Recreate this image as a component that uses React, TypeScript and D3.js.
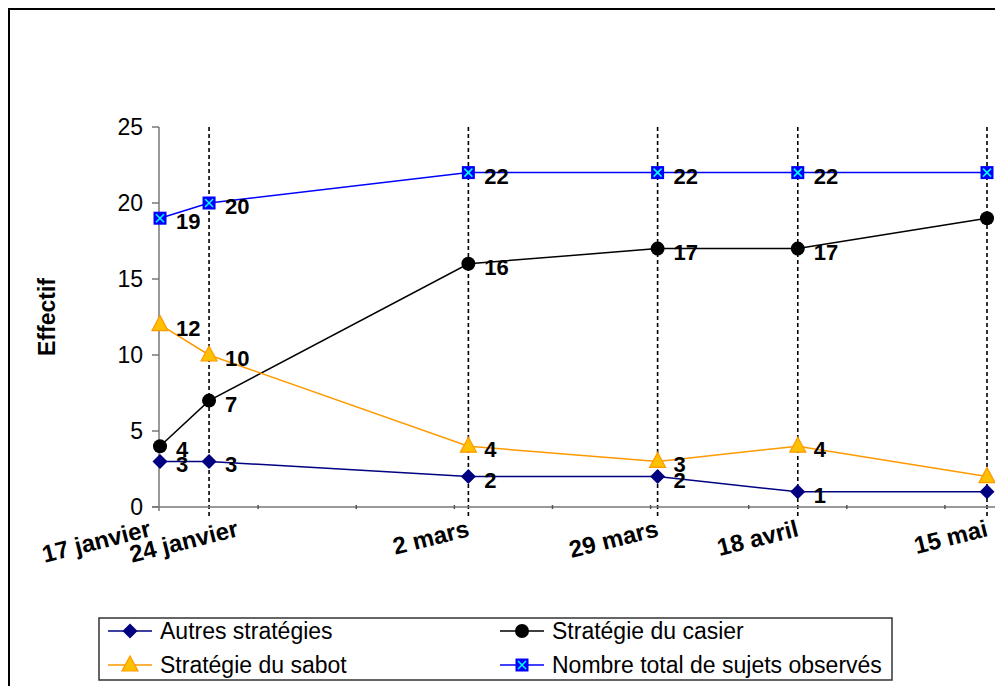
import React from "react";
import * as d3 from "d3";

const dates = ["2005-01-17", "2005-01-24", "2005-03-02", "2005-03-29", "2005-04-18", "2005-05-15"];
const dateLabels = ["17 janvier", "24 janvier", "2 mars", "29 mars", "18 avril", "15 mai"];
const autres = [3, 3, 2, 2, 1, 1];
const casier = [4, 7, 16, 17, 17, 19];
const sabot = [12, 10, 4, 3, 4, 2];
const total = [19, 20, 22, 22, 22, 22];
const yTicks = [0, 5, 10, 15, 20, 25];
const seriesNames = ["Autres stratégies", "Stratégie du casier", "Stratégie du sabot", "Nombre total de sujets observés"];

const W = 995;
const H = 686;
const FONT = "'Liberation Sans', Arial, sans-serif";

const parse = d3.timeParse("%Y-%m-%d");
const dts = dates.map((d) => parse(d) as Date);

const x = d3.scaleTime().domain([dts[0], dts[dts.length - 1]]).range([160, 987]);
const y = d3.scaleLinear().domain([0, 25]).range([507, 127]);

type Kind = "diamond" | "circle" | "triangle" | "square";
const series: { name: string; values: number[]; color: string; kind: Kind }[] = [
  { name: seriesNames[0], values: autres, color: "#000080", kind: "diamond" },
  { name: seriesNames[1], values: casier, color: "#000000", kind: "circle" },
  { name: seriesNames[2], values: sabot, color: "#FF9900", kind: "triangle" },
  { name: seriesNames[3], values: total, color: "#0000FF", kind: "square" },
];

function Marker({ kind, cx, cy }: { kind: Kind; cx: number; cy: number }) {
  if (kind === "diamond") {
    const r = 7.5;
    return <path d={`M${cx},${cy - r}L${cx + r},${cy}L${cx},${cy + r}L${cx - r},${cy}Z`} fill="#000080" />;
  }
  if (kind === "circle") return <circle cx={cx} cy={cy} r={7} fill="#000" />;
  if (kind === "triangle") {
    return (
      <path
        d={`M${cx},${cy - 9}L${cx + 8},${cy + 6}L${cx - 8},${cy + 6}Z`}
        fill="#FFC000"
        stroke="#FF9900"
        strokeWidth={1.2}
      />
    );
  }
  const s = 6.5;
  return (
    <g>
      <rect x={cx - s} y={cy - s} width={2 * s} height={2 * s} fill="#0000FF" />
      <path d={`M${cx - 4},${cy - 4}L${cx + 4},${cy + 4}M${cx + 4},${cy - 4}L${cx - 4},${cy + 4}`} stroke="#00FFFF" strokeWidth={1.5} />
    </g>
  );
}

function measure(text: string, font: string) {
  const c = document.createElement("canvas").getContext("2d");
  if (!c) return text.length * 11;
  c.font = font;
  return c.measureText(text).width;
}

export default function App() {
  const line = d3
    .line<number>()
    .x((_, i) => x(dts[i]))
    .y((v) => y(v));

  const angle = -14;
  const cosA = Math.cos((angle * Math.PI) / 180);
  const labelSize = 24;
  const labelFont = `bold ${labelSize}px ${FONT}`;
  const labelPos: number[] = [];
  dateLabels.forEach((t, i) => {
    let ax = x(dts[i]) + (i === 0 ? -8 : 2);
    const w = measure(t, labelFont) * cosA;
    if (i > 0) {
      const minLeft = labelPos[i - 1] - 20;
      if (ax - w < minLeft) ax = minLeft + w;
    }
    labelPos.push(ax);
  });

  const minorTicks: Date[] = d3
    .range(1, 10)
    .map((k) => d3.timeDay.offset(dts[0], 14 * k))
    .filter((d) => d <= dts[dts.length - 1]);

  const legendItems = [
    { s: series[0], lx: 108, ly: 631 },
    { s: series[1], lx: 500, ly: 631 },
    { s: series[2], lx: 108, ly: 665 },
    { s: series[3], lx: 500, ly: 665 },
  ];

  return (
    <svg width={W} height={H} style={{ position: "absolute", left: 0, top: 0, background: "#fff" }}>
      <rect x={0} y={0} width={W} height={H} fill="#fff" />
      <rect x={9} y={9} width={W + 20} height={H + 20} fill="none" stroke="#000" strokeWidth={2} />

      {/* dashed verticals */}
      {dts.slice(1).map((d, i) => (
        <line key={i} x1={x(d)} x2={x(d)} y1={y(25)} y2={517} stroke="#000" strokeWidth={1.6} strokeDasharray="4,3" />
      ))}

      {/* y axis */}
      <line x1={159} x2={159} y1={y(25)} y2={511} stroke="#777" strokeWidth={1.5} />
      {yTicks.map((t) => (
        <g key={t}>
          <line x1={152} x2={159} y1={y(t)} y2={y(t)} stroke="#777" strokeWidth={1.5} />
          <text x={143} y={y(t) + 8} textAnchor="end" fontFamily={FONT} fontSize={23} fill="#000">
            {t}
          </text>
        </g>
      ))}
      <text
        transform={`translate(55,${(y(25) + y(0)) / 2}) rotate(-90)`}
        textAnchor="middle"
        fontFamily={FONT}
        fontWeight="bold"
        fontSize={23}
      >
        Effectif
      </text>

      {/* x axis */}
      <line x1={152} x2={W} y1={y(0)} y2={y(0)} stroke="#777" strokeWidth={1.5} />
      {minorTicks.map((d, i) => (
        <line key={i} x1={x(d)} x2={x(d)} y1={y(0) - 2} y2={y(0) + 2} stroke="#555" strokeWidth={1.5} />
      ))}
      {dateLabels.map((t, i) => (
        <text
          key={t}
          transform={`translate(${labelPos[i]},536) rotate(${angle})`}
          textAnchor="end"
          fontFamily={FONT}
          fontWeight="bold"
          fontSize={labelSize}
        >
          {t}
        </text>
      ))}

      {/* series */}
      {series.map((s) => (
        <path key={s.name} d={line(s.values) || ""} fill="none" stroke={s.color} strokeWidth={1.5} />
      ))}
      {series.map((s) =>
        s.values.map((v, i) => <Marker key={s.name + i} kind={s.kind} cx={x(dts[i])} cy={y(v)} />)
      )}
      {series.map((s) =>
        s.values.map((v, i) => (
          <text
            key={s.name + "l" + i}
            x={x(dts[i]) + 16}
            y={y(v) + 11}
            fontFamily={FONT}
            fontWeight="bold"
            fontSize={22}
            fill="#000"
          >
            {v}
          </text>
        ))
      )}

      {/* legend */}
      <rect x={99} y={618} width={793} height={62} fill="#fff" stroke="#333" strokeWidth={1.5} />
      {legendItems.map(({ s, lx, ly }) => (
        <g key={s.name}>
          <line x1={lx} x2={lx + 44} y1={ly} y2={ly} stroke={s.color} strokeWidth={1.5} />
          <Marker kind={s.kind} cx={lx + 22} cy={ly} />
          <text x={lx + 52} y={ly + 8} fontFamily={FONT} fontSize={23} fill="#000">
            {s.name}
          </text>
        </g>
      ))}
    </svg>
  );
}
